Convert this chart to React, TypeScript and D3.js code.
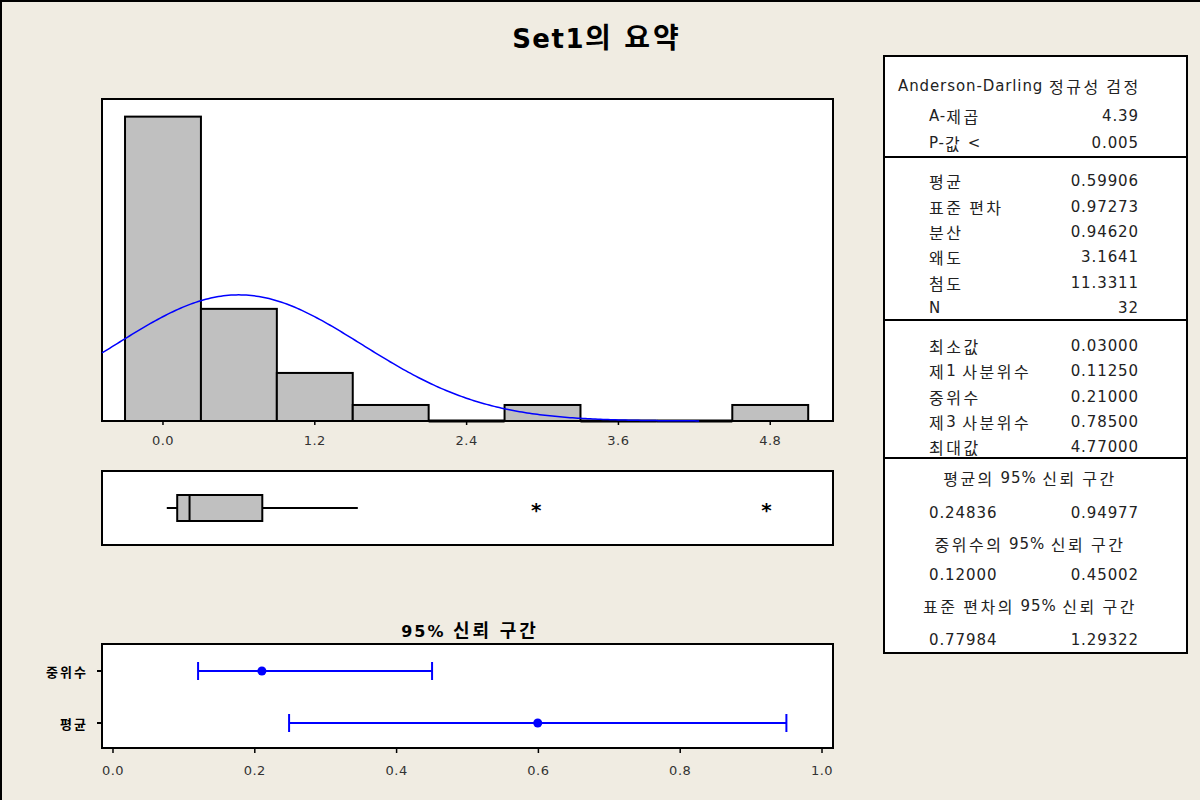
import React from "react";
import * as d3 from "d3";

// ---------- data ----------
const binEdges = [-0.3, 0.3, 0.9, 1.5, 2.1, 2.7, 3.3, 3.9, 4.5, 5.1];
const binCounts = [19, 7, 3, 1, 0, 1, 0, 0, 1];
const histTicks = [0, 1.2, 2.4, 3.6, 4.8];
const sampleMean = 0.59906;
const sampleSd = 0.97273;
const sampleN = 32;

const boxMin = 0.03;
const boxQ1 = 0.1125;
const boxMedian = 0.21;
const boxQ3 = 0.785;
const boxWhiskerHigh = 1.54;
const boxOutliers = [2.95, 4.77];

const ciCategories = ["중위수", "평균"];
const ciLow = [0.12, 0.24836];
const ciHigh = [0.45002, 0.94977];
const ciPoint = [0.21, 0.59906];
const ciTicks = [0, 0.2, 0.4, 0.6, 0.8, 1.0];

const adLabels = ["A-제곱", "P-값 <"];
const adValues = ["4.39", "0.005"];
const descLabels = ["평균", "표준 편차", "분산", "왜도", "첨도", "N"];
const descValues = ["0.59906", "0.97273", "0.94620", "3.1641", "11.3311", "32"];
const quantLabels = ["최소값", "제1 사분위수", "중위수", "제3 사분위수", "최대값"];
const quantValues = ["0.03000", "0.11250", "0.21000", "0.78500", "4.77000"];
const ciTitles = ["평균의 95% 신뢰 구간", "중위수의 95% 신뢰 구간", "표준 편차의 95% 신뢰 구간"];
const ciTableLow = ["0.24836", "0.12000", "0.77984"];
const ciTableHigh = ["0.94977", "0.45002", "1.29322"];

// ---------- layout ----------
const BG = "#F0ECE2";
const FONT = "'DejaVu Sans', 'Noto Sans CJK KR', sans-serif";
const KFONT = "'Noto Sans CJK KR', 'DejaVu Sans', sans-serif";

const H = { left: 102, right: 833, top: 99, bottom: 421 };
const B = { top: 471, bottom: 545 };
const C = { top: 644, bottom: 748 };
const T = { left: 884, right: 1187, top: 56, bottom: 653 };

// split text into Hangul / non-Hangul runs so Korean glyphs can be sized separately
function Mixed({ s, latinSize, hangulSize, latinSpacing, hangulSpacing }: { s: string; latinSize: number; hangulSize: number; latinSpacing: number; hangulSpacing: number }) {
  const parts = s.split(/([\uAC00-\uD7A3]+)/).filter((p) => p.length > 0);
  return (
    <>
      {parts.map((p, i) =>
        /[\uAC00-\uD7A3]/.test(p) ? (
          <tspan key={i} fontFamily={KFONT} fontSize={hangulSize} letterSpacing={hangulSpacing}>
            {p}
          </tspan>
        ) : (
          <tspan key={i} fontFamily={FONT} fontSize={latinSize} letterSpacing={latinSpacing}>
            {p}
          </tspan>
        )
      )}
    </>
  );
}

export default function App() {
  const x = d3.scaleLinear().domain([-0.482, 5.296]).range([H.left, H.right]);
  const y = d3.scaleLinear().domain([0, 20.1]).range([H.bottom, H.top]);
  const binW = binEdges[1] - binEdges[0];
  const normal = (v: number) =>
    (sampleN * binW * Math.exp(-0.5 * ((v - sampleMean) / sampleSd) ** 2)) /
    (sampleSd * Math.sqrt(2 * Math.PI));
  const curvePts = d3.range(-0.482, 4.25, 0.02).map((v) => [v, normal(v)] as [number, number]);
  const line = d3
    .line<[number, number]>()
    .x((d) => x(d[0]))
    .y((d) => y(d[1]));

  const boxMid = (B.top + B.bottom) / 2;
  const boxHalf = 13;

  const cx = d3.scaleLinear().domain([-0.0155, 1.0155]).range([H.left, H.right]);
  const cy = d3.scalePoint<string>().domain(ciCategories).range([671, 723]);

  const labelX = 929;
  const valueX = 1139;
  const tbl = { latinSize: 15, hangulSize: 16, latinSpacing: 0.9, hangulSpacing: 2.5 };

  const adY = [116, 143];
  const descY = [181, 207, 232, 257, 283, 308];
  const quantY = [346, 371, 397, 422, 447];
  const ciTitleY = [478, 544, 606];
  const ciValY = [513, 575, 640];

  const T_ = (props: { x: number; y: number; s: string; anchor?: string }) => (
    <text x={props.x} y={props.y} dominantBaseline="central" textAnchor={props.anchor || "start"} fill="#222">
      <Mixed s={props.s} {...tbl} />
    </text>
  );

  return (
    <svg width={1200} height={800} style={{ position: "absolute", left: 0, top: 0 }}>
      <rect x={0} y={0} width={1200} height={800} fill={BG} />
      <line x1={1} y1={0} x2={1} y2={800} stroke="#000" strokeWidth={2} />
      <line x1={0} y1={1} x2={1200} y2={1} stroke="#000" strokeWidth={2} />

      <text x={597} y={48} textAnchor="middle" fontWeight="bold" fill="#000">
        <Mixed s="Set1의 요약" latinSize={26} hangulSize={28} latinSpacing={1.5} hangulSpacing={3} />
      </text>

      {/* Histogram */}
      <rect x={H.left} y={H.top} width={H.right - H.left} height={H.bottom - H.top} fill="#fff" stroke="#000" strokeWidth={2} />
      {binCounts.map((c, i) =>
        c > 0 ? (
          <rect
            key={i}
            x={x(binEdges[i])}
            y={y(c)}
            width={x(binEdges[i + 1]) - x(binEdges[i])}
            height={y(0) - y(c)}
            fill="#C0C0C0"
            stroke="#000"
            strokeWidth={2}
          />
        ) : (
          <line key={i} x1={x(binEdges[i])} x2={x(binEdges[i + 1])} y1={y(0)} y2={y(0)} stroke="#000" strokeWidth={3} />
        )
      )}
      <path d={line(curvePts) || ""} fill="none" stroke="#0000FF" strokeWidth={1.5} />
      {histTicks.map((t) => (
        <g key={t}>
          <line x1={x(t)} x2={x(t)} y1={H.bottom} y2={H.bottom + 4} stroke="#000" strokeWidth={1.5} />
          <text x={x(t)} y={445} textAnchor="middle" fontFamily={FONT} fontSize={13} letterSpacing={0.5} fill="#333">
            {d3.format(".1f")(t)}
          </text>
        </g>
      ))}

      {/* Boxplot */}
      <rect x={H.left} y={B.top} width={H.right - H.left} height={B.bottom - B.top} fill="#fff" stroke="#000" strokeWidth={2} />
      <line x1={x(boxMin)} x2={x(boxQ1)} y1={boxMid} y2={boxMid} stroke="#000" strokeWidth={2} />
      <line x1={x(boxQ3)} x2={x(boxWhiskerHigh)} y1={boxMid} y2={boxMid} stroke="#000" strokeWidth={2} />
      <rect x={x(boxQ1)} y={boxMid - boxHalf} width={x(boxQ3) - x(boxQ1)} height={boxHalf * 2} fill="#C0C0C0" stroke="#000" strokeWidth={2} />
      <line x1={x(boxMedian)} x2={x(boxMedian)} y1={boxMid - boxHalf} y2={boxMid + boxHalf} stroke="#000" strokeWidth={2} />
      {boxOutliers.map((o) => (
        <text key={o} x={x(o)} y={boxMid + 9} textAnchor="middle" fontFamily={FONT} fontSize={20} fontWeight="bold" fill="#000">
          *
        </text>
      ))}

      {/* CI plot */}
      <text x={470} y={637} textAnchor="middle" fontWeight="bold" fill="#000">
        <Mixed s="95% 신뢰 구간" latinSize={16} hangulSize={18} latinSpacing={2} hangulSpacing={3} />
      </text>
      <rect x={H.left} y={C.top} width={H.right - H.left} height={C.bottom - C.top} fill="#fff" stroke="#000" strokeWidth={2} />
      {ciCategories.map((c, i) => {
        const yy = cy(c) as number;
        return (
          <g key={c}>
            <line x1={H.left - 5} x2={H.left} y1={yy} y2={yy} stroke="#000" strokeWidth={2} />
            <text x={H.left - 14} y={yy} dominantBaseline="central" textAnchor="end" fontFamily={KFONT} fontSize={13} fontWeight="bold" letterSpacing={2} fill="#000">
              {c}
            </text>
            <line x1={cx(ciLow[i])} x2={cx(ciHigh[i])} y1={yy} y2={yy} stroke="#0000FF" strokeWidth={2} />
            <line x1={cx(ciLow[i])} x2={cx(ciLow[i])} y1={yy - 9} y2={yy + 9} stroke="#0000FF" strokeWidth={2} />
            <line x1={cx(ciHigh[i])} x2={cx(ciHigh[i])} y1={yy - 9} y2={yy + 9} stroke="#0000FF" strokeWidth={2} />
            <circle cx={cx(ciPoint[i])} cy={yy} r={4.5} fill="#0000FF" />
          </g>
        );
      })}
      {ciTicks.map((t) => (
        <g key={t}>
          <line x1={cx(t)} x2={cx(t)} y1={C.bottom} y2={C.bottom + 5} stroke="#000" strokeWidth={1.5} />
          <text x={cx(t)} y={775} textAnchor="middle" fontFamily={FONT} fontSize={13} letterSpacing={0.5} fill="#333">
            {d3.format(".1f")(t)}
          </text>
        </g>
      ))}

      {/* Table */}
      <rect x={T.left} y={T.top} width={T.right - T.left} height={T.bottom - T.top} fill="#fff" stroke="#000" strokeWidth={2} />
      {[157, 320, 458].map((yy) => (
        <line key={yy} x1={T.left} x2={T.right} y1={yy} y2={yy} stroke="#000" strokeWidth={2} />
      ))}
      <T_ x={898} y={86} s="Anderson-Darling 정규성 검정" />
      {adLabels.map((l, i) => (
        <g key={l}>
          <T_ x={labelX} y={adY[i]} s={l} />
          <T_ x={valueX} y={adY[i]} s={adValues[i]} anchor="end" />
        </g>
      ))}
      {descLabels.map((l, i) => (
        <g key={l}>
          <T_ x={labelX} y={descY[i]} s={l} />
          <T_ x={valueX} y={descY[i]} s={descValues[i]} anchor="end" />
        </g>
      ))}
      {quantLabels.map((l, i) => (
        <g key={l}>
          <T_ x={labelX} y={quantY[i]} s={l} />
          <T_ x={valueX} y={quantY[i]} s={quantValues[i]} anchor="end" />
        </g>
      ))}
      {ciTitles.map((l, i) => (
        <g key={l}>
          <T_ x={1030} y={ciTitleY[i]} s={l} anchor="middle" />
          <T_ x={labelX} y={ciValY[i]} s={ciTableLow[i]} />
          <T_ x={valueX} y={ciValY[i]} s={ciTableHigh[i]} anchor="end" />
        </g>
      ))}
    </svg>
  );
}
